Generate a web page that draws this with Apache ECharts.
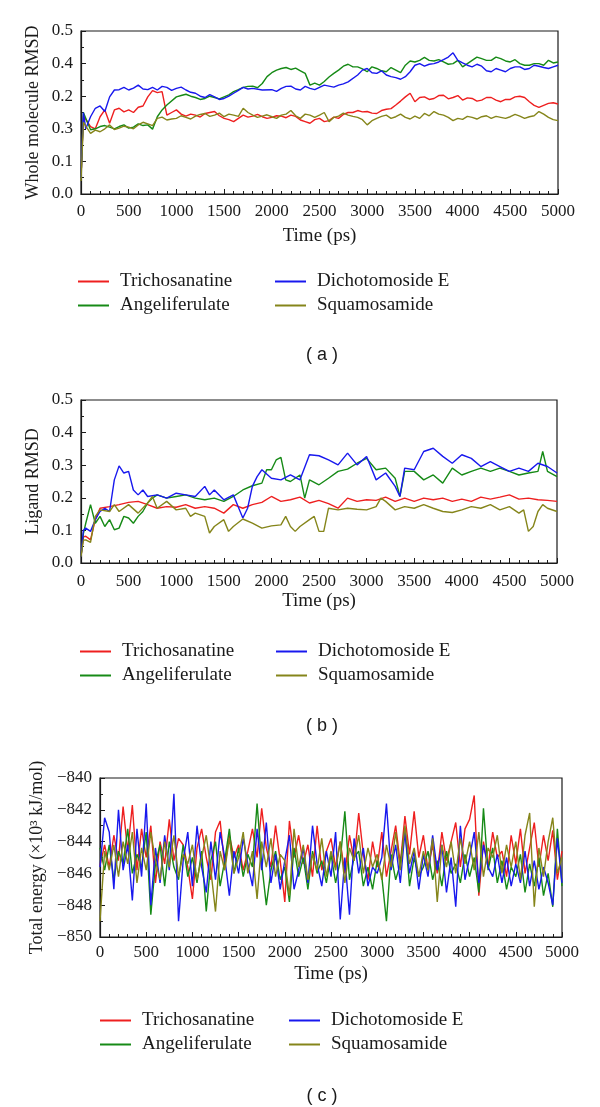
<!DOCTYPE html>
<html><head><meta charset="utf-8">
<script src="https://cdn.jsdelivr.net/npm/echarts@6/dist/echarts.min.js"></script>
<style>html,body{margin:0;padding:0;background:#fff}#c{width:600px;height:1107px}</style>
</head><body><div id="c"></div>
<script>
// ---------- DATA ----------
const seriesNames = ['Trichosanatine', 'Angeliferulate', 'Dichotomoside E', 'Squamosamide'];
const xTickLabels = ['0','500','1000','1500','2000','2500','3000','3500','4000','4500','5000'];
const yTickLabelsA = ['0.0','0.1','0.3','0.2','0.4','0.5'];
const yTickLabelsB = ['0.0','0.1','0.2','0.3','0.4','0.5'];
const yTickLabelsC = ['\u2212850','\u2212848','\u2212846','\u2212844','\u2212842','\u2212840'];

// Panel (a) whole molecule RMSD  [time ps, value]
const aRed = [[0,0.05],[25,0.24],[100,0.207],[150,0.2],[200,0.237],[250,0.258],[300,0.217],[350,0.258],[400,0.263],[450,0.252],[500,0.258],[550,0.25],[600,0.266],[650,0.27],[700,0.298],[750,0.317],[800,0.311],[850,0.314],[900,0.242],[950,0.25],[1000,0.258],[1050,0.245],[1100,0.239],[1150,0.245],[1200,0.242],[1250,0.236],[1300,0.247],[1350,0.25],[1400,0.253],[1450,0.24],[1500,0.232],[1550,0.228],[1600,0.222],[1650,0.232],[1700,0.242],[1750,0.236],[1800,0.239],[1850,0.244],[1900,0.237],[1950,0.232],[2000,0.235],[2050,0.24],[2100,0.239],[2150,0.234],[2200,0.242],[2250,0.238],[2300,0.227],[2350,0.222],[2400,0.217],[2450,0.228],[2500,0.232],[2550,0.222],[2600,0.225],[2650,0.236],[2700,0.232],[2750,0.244],[2800,0.25],[2850,0.25],[2900,0.256],[2950,0.252],[3000,0.253],[3050,0.248],[3100,0.247],[3150,0.256],[3200,0.26],[3250,0.262],[3300,0.273],[3350,0.285],[3400,0.298],[3450,0.309],[3500,0.283],[3550,0.296],[3600,0.298],[3650,0.29],[3700,0.293],[3750,0.302],[3800,0.303],[3850,0.292],[3900,0.296],[3950,0.302],[4000,0.288],[4050,0.295],[4100,0.293],[4150,0.285],[4200,0.288],[4250,0.296],[4300,0.296],[4350,0.288],[4400,0.283],[4450,0.29],[4500,0.29],[4550,0.298],[4600,0.3],[4650,0.296],[4700,0.283],[4750,0.272],[4800,0.266],[4850,0.272],[4900,0.278],[4950,0.28],[5000,0.276]];
const aGreen = [[0,0.05],[25,0.25],[100,0.197],[150,0.2],[200,0.207],[250,0.21],[300,0.205],[350,0.2],[400,0.207],[450,0.212],[500,0.202],[550,0.205],[600,0.215],[650,0.21],[700,0.212],[750,0.199],[800,0.237],[850,0.258],[900,0.273],[1000,0.298],[1050,0.302],[1100,0.306],[1150,0.3],[1200,0.296],[1250,0.29],[1300,0.293],[1350,0.3],[1400,0.296],[1450,0.292],[1500,0.298],[1550,0.304],[1600,0.314],[1650,0.32],[1700,0.327],[1750,0.33],[1800,0.331],[1850,0.326],[1900,0.339],[1950,0.36],[2000,0.372],[2050,0.38],[2100,0.385],[2150,0.388],[2200,0.382],[2250,0.386],[2300,0.378],[2350,0.37],[2400,0.334],[2450,0.34],[2500,0.334],[2550,0.345],[2600,0.359],[2650,0.37],[2700,0.38],[2750,0.392],[2800,0.398],[2850,0.39],[2900,0.39],[2950,0.384],[3000,0.375],[3050,0.39],[3100,0.385],[3150,0.378],[3200,0.375],[3250,0.388],[3300,0.38],[3350,0.372],[3400,0.395],[3450,0.408],[3500,0.405],[3550,0.41],[3600,0.419],[3650,0.41],[3700,0.408],[3750,0.412],[3800,0.405],[3850,0.398],[3900,0.4],[3950,0.41],[4000,0.39],[4050,0.4],[4100,0.41],[4150,0.42],[4200,0.415],[4250,0.41],[4300,0.41],[4350,0.42],[4400,0.415],[4450,0.408],[4500,0.405],[4550,0.412],[4600,0.4],[4650,0.395],[4700,0.395],[4750,0.4],[4800,0.4],[4850,0.395],[4900,0.41],[4950,0.402],[5000,0.405]];
const aBlue = [[0,0.05],[25,0.25],[50,0.2],[100,0.237],[150,0.263],[200,0.27],[250,0.253],[300,0.298],[350,0.319],[400,0.32],[450,0.327],[500,0.319],[550,0.325],[600,0.334],[650,0.322],[700,0.32],[750,0.327],[800,0.319],[850,0.33],[900,0.327],[950,0.318],[1000,0.324],[1050,0.328],[1100,0.319],[1150,0.312],[1200,0.309],[1250,0.3],[1300,0.296],[1350,0.305],[1400,0.298],[1450,0.29],[1500,0.293],[1550,0.3],[1600,0.309],[1650,0.318],[1700,0.327],[1750,0.322],[1800,0.324],[1900,0.319],[2000,0.32],[2050,0.315],[2100,0.324],[2150,0.33],[2200,0.331],[2250,0.322],[2300,0.319],[2350,0.33],[2400,0.324],[2450,0.32],[2500,0.327],[2550,0.334],[2600,0.331],[2650,0.328],[2700,0.334],[2750,0.338],[2800,0.344],[2900,0.365],[2950,0.38],[3000,0.385],[3050,0.372],[3100,0.37],[3150,0.378],[3200,0.365],[3250,0.36],[3300,0.357],[3350,0.352],[3400,0.36],[3450,0.375],[3500,0.395],[3550,0.4],[3600,0.392],[3650,0.398],[3700,0.4],[3750,0.405],[3800,0.412],[3850,0.42],[3900,0.433],[3950,0.41],[4000,0.402],[4050,0.395],[4100,0.39],[4150,0.398],[4200,0.392],[4250,0.378],[4300,0.375],[4350,0.385],[4400,0.38],[4450,0.375],[4500,0.385],[4550,0.39],[4600,0.39],[4650,0.382],[4700,0.385],[4750,0.395],[4800,0.392],[4850,0.388],[4900,0.385],[4950,0.39],[5000,0.395]];
const aOlive = [[0,0.04],[25,0.22],[100,0.186],[150,0.196],[200,0.191],[250,0.2],[300,0.212],[350,0.198],[400,0.202],[450,0.208],[500,0.205],[550,0.2],[600,0.212],[650,0.22],[700,0.215],[750,0.21],[800,0.232],[850,0.236],[900,0.227],[950,0.23],[1000,0.232],[1050,0.24],[1100,0.235],[1150,0.23],[1200,0.239],[1250,0.244],[1300,0.247],[1350,0.238],[1400,0.242],[1450,0.248],[1500,0.237],[1550,0.245],[1600,0.242],[1650,0.238],[1700,0.263],[1750,0.25],[1800,0.242],[1850,0.235],[1900,0.239],[1950,0.243],[2000,0.237],[2050,0.232],[2100,0.242],[2150,0.245],[2200,0.256],[2250,0.24],[2300,0.232],[2350,0.245],[2400,0.242],[2450,0.235],[2500,0.242],[2550,0.25],[2600,0.222],[2650,0.235],[2700,0.239],[2750,0.248],[2800,0.242],[2850,0.238],[2900,0.235],[2950,0.228],[3000,0.212],[3050,0.225],[3100,0.232],[3150,0.238],[3200,0.242],[3250,0.232],[3300,0.237],[3350,0.245],[3400,0.235],[3450,0.23],[3500,0.239],[3550,0.232],[3600,0.247],[3650,0.24],[3700,0.253],[3750,0.245],[3800,0.242],[3850,0.235],[3900,0.225],[3950,0.232],[4000,0.229],[4050,0.238],[4100,0.235],[4150,0.23],[4200,0.237],[4250,0.24],[4300,0.232],[4350,0.238],[4400,0.235],[4450,0.232],[4500,0.237],[4550,0.244],[4600,0.239],[4650,0.232],[4700,0.237],[4750,0.24],[4800,0.253],[4850,0.245],[4900,0.235],[4950,0.228],[5000,0.225]];

// Panel (b) ligand RMSD  [time ps, value]
const bRed = [[0,0.02],[25,0.08],[50,0.082],[100,0.071],[150,0.133],[200,0.168],[300,0.173],[400,0.179],[500,0.186],[600,0.189],[700,0.179],[800,0.168],[900,0.173],[1000,0.171],[1100,0.179],[1200,0.168],[1300,0.173],[1400,0.168],[1500,0.153],[1600,0.179],[1700,0.168],[1800,0.179],[1900,0.186],[2000,0.204],[2100,0.189],[2200,0.194],[2300,0.202],[2400,0.184],[2500,0.192],[2600,0.182],[2700,0.168],[2800,0.199],[2900,0.189],[3000,0.194],[3100,0.192],[3200,0.202],[3300,0.189],[3400,0.199],[3500,0.189],[3600,0.199],[3700,0.194],[3800,0.199],[3900,0.189],[4000,0.196],[4100,0.189],[4200,0.202],[4300,0.196],[4400,0.202],[4500,0.209],[4600,0.196],[4700,0.199],[4800,0.194],[4900,0.192],[5000,0.189]];
const bGreen = [[0,0.02],[25,0.09],[50,0.122],[100,0.179],[150,0.122],[200,0.143],[250,0.112],[300,0.133],[350,0.102],[400,0.107],[450,0.143],[500,0.138],[550,0.122],[600,0.143],[650,0.158],[700,0.184],[750,0.199],[800,0.209],[900,0.199],[1000,0.204],[1100,0.209],[1200,0.199],[1300,0.194],[1400,0.199],[1500,0.189],[1600,0.204],[1700,0.224],[1800,0.237],[1900,0.245],[1950,0.286],[2000,0.286],[2050,0.316],[2100,0.324],[2150,0.255],[2200,0.25],[2300,0.27],[2350,0.199],[2400,0.255],[2500,0.24],[2600,0.26],[2700,0.281],[2800,0.288],[2900,0.306],[3000,0.321],[3100,0.286],[3200,0.291],[3300,0.26],[3350,0.204],[3400,0.281],[3500,0.281],[3600,0.255],[3700,0.27],[3800,0.245],[3900,0.291],[4000,0.27],[4100,0.281],[4200,0.291],[4300,0.281],[4400,0.291],[4500,0.281],[4600,0.27],[4700,0.276],[4800,0.281],[4850,0.342],[4900,0.281],[5000,0.265]];
const bBlue = [[0,0.02],[25,0.1],[50,0.107],[100,0.097],[150,0.133],[200,0.158],[250,0.168],[300,0.158],[350,0.255],[400,0.298],[450,0.276],[500,0.281],[550,0.224],[600,0.209],[650,0.224],[700,0.204],[800,0.209],[900,0.199],[1000,0.214],[1100,0.209],[1200,0.204],[1300,0.235],[1350,0.209],[1400,0.224],[1500,0.194],[1600,0.209],[1650,0.173],[1700,0.138],[1750,0.168],[1800,0.235],[1850,0.265],[1900,0.286],[2000,0.26],[2100,0.255],[2200,0.27],[2300,0.255],[2400,0.332],[2500,0.329],[2600,0.316],[2700,0.301],[2800,0.337],[2900,0.301],[3000,0.327],[3100,0.255],[3200,0.276],[3300,0.235],[3350,0.204],[3400,0.291],[3500,0.286],[3600,0.342],[3700,0.352],[3800,0.327],[3900,0.306],[4000,0.332],[4100,0.321],[4200,0.296],[4300,0.311],[4400,0.296],[4500,0.281],[4600,0.291],[4700,0.281],[4800,0.306],[4900,0.296],[5000,0.276]];
const bOlive = [[0,0.02],[25,0.07],[50,0.071],[100,0.063],[150,0.143],[200,0.163],[300,0.158],[350,0.179],[400,0.158],[500,0.179],[600,0.153],[700,0.184],[750,0.204],[800,0.168],[900,0.189],[1000,0.163],[1100,0.168],[1150,0.143],[1200,0.153],[1300,0.143],[1350,0.092],[1400,0.112],[1500,0.133],[1550,0.097],[1600,0.112],[1700,0.135],[1800,0.122],[1900,0.107],[2000,0.114],[2100,0.117],[2150,0.143],[2200,0.112],[2250,0.097],[2300,0.112],[2400,0.133],[2450,0.143],[2500,0.097],[2550,0.097],[2600,0.168],[2700,0.163],[2800,0.168],[2900,0.165],[3000,0.163],[3100,0.173],[3150,0.199],[3200,0.189],[3300,0.163],[3400,0.173],[3500,0.168],[3600,0.179],[3700,0.168],[3800,0.158],[3900,0.155],[4000,0.163],[4100,0.173],[4200,0.168],[4300,0.179],[4400,0.163],[4500,0.173],[4600,0.153],[4650,0.163],[4700,0.097],[4750,0.112],[4800,0.158],[4850,0.179],[4900,0.168],[5000,0.158]];

// Panel (c) total energy (x10^3 kJ/mol)
const timesC = [0,50,100,150,200,250,300,350,400,450,500,550,600,650,700,750,800,850,900,950,1000,1050,1100,1150,1200,1250,1300,1350,1400,1450,1500,1550,1600,1650,1700,1750,1800,1850,1900,1950,2000,2050,2100,2150,2200,2250,2300,2350,2400,2450,2500,2550,2600,2650,2700,2750,2800,2850,2900,2950,3000,3050,3100,3150,3200,3250,3300,3350,3400,3450,3500,3550,3600,3650,3700,3750,3800,3850,3900,3950,4000,4050,4100,4150,4200,4250,4300,4350,4400,4450,4500,4550,4600,4650,4700,4750,4800,4850,4900,4950,5000];
const cRed = [-845.5,-844.2,-845.6,-843.6,-845.2,-841.8,-844.6,-841.7,-845.8,-843.2,
-845.0,-843.0,-846.6,-844.0,-845.4,-842.6,-845.2,-843.8,-844.2,-845.6,
-847.6,-844.4,-843.2,-845.0,-846.4,-843.4,-842.7,-845.6,-843.6,-845.0,
-844.2,-845.8,-844.6,-843.2,-845.0,-841.9,-844.4,-845.6,-843.0,-845.2,
-847.8,-842.7,-845.0,-843.6,-845.4,-844.2,-846.2,-843.0,-845.8,-844.6,
-843.8,-845.6,-844.0,-846.0,-843.6,-845.2,-842.2,-844.8,-846.4,-844.0,
-845.6,-843.4,-846.2,-844.6,-843.0,-845.4,-842.4,-844.8,-842.1,-845.0,
-843.6,-845.8,-844.2,-846.0,-843.4,-845.2,-844.0,-842.8,-845.6,-843.2,
-842.6,-841.1,-847.4,-844.0,-845.6,-843.4,-845.0,-844.6,-846.2,-843.6,
-845.4,-843.2,-846.0,-844.4,-842.8,-845.6,-843.6,-845.2,-843.3,-846.4,-844.6];
const cGreen = [-844.4,-845.8,-844.2,-846.4,-844.6,-845.4,-843.2,-846.0,-844.8,-845.6,
-843.4,-848.6,-845.4,-844.2,-846.8,-844.0,-845.6,-846.4,-844.2,-846.2,
-845.0,-846.6,-844.6,-848.4,-845.2,-844.0,-846.8,-845.2,-843.2,-846.0,
-844.4,-846.2,-844.8,-845.6,-841.6,-845.4,-848.0,-845.8,-844.6,-846.4,
-845.6,-847.8,-844.4,-846.2,-845.0,-847.0,-844.6,-846.0,-845.2,-846.6,
-844.8,-846.6,-845.2,-842.1,-846.4,-845.0,-844.6,-846.8,-845.6,-847.0,
-845.2,-846.2,-849.0,-844.8,-846.4,-845.4,-843.2,-846.8,-845.0,-846.2,
-845.6,-844.6,-846.4,-845.2,-846.8,-844.6,-846.0,-845.4,-846.6,-844.8,
-846.2,-845.0,-847.2,-841.9,-845.8,-844.4,-846.6,-845.2,-847.0,-845.6,
-846.2,-844.8,-847.2,-845.4,-846.8,-845.0,-847.4,-846.0,-848.1,-843.2,-846.8];
const cBlue = [-845.6,-842.5,-843.4,-847.0,-842.0,-845.8,-844.2,-847.7,-843.2,-846.2,
-841.6,-848.0,-844.4,-846.6,-843.6,-845.8,-841.0,-849.0,-845.2,-843.4,
-846.8,-843.0,-845.6,-847.2,-844.0,-846.4,-843.4,-845.0,-847.4,-844.6,
-846.0,-843.8,-845.4,-846.8,-843.2,-845.8,-842.8,-846.6,-844.8,-847.0,
-845.2,-843.6,-847.0,-845.8,-844.4,-846.6,-843.0,-845.4,-846.8,-844.6,
-846.2,-843.4,-848.9,-845.0,-848.6,-843.8,-846.0,-844.4,-846.8,-845.6,
-846.0,-845.0,-841.6,-845.8,-844.2,-846.6,-843.4,-846.0,-844.6,-847.0,
-844.8,-846.2,-843.6,-845.8,-844.2,-847.2,-845.0,-848.1,-843.0,-846.4,
-845.0,-843.4,-846.6,-844.2,-845.6,-846.2,-844.8,-846.6,-845.0,-846.8,
-845.4,-846.6,-844.6,-846.8,-845.2,-847.0,-845.6,-846.6,-848.0,-843.8,-846.6];
const cOlive = [-849.0,-844.6,-845.8,-844.2,-846.2,-844.0,-845.4,-843.4,-846.6,-844.4,
-845.8,-843.4,-845.2,-846.4,-844.0,-845.6,-843.6,-846.2,-844.8,-845.4,
-844.2,-846.4,-845.0,-843.6,-845.8,-848.4,-844.6,-845.8,-843.8,-846.0,
-845.0,-843.4,-846.0,-844.6,-847.6,-844.0,-845.6,-843.8,-846.2,-844.8,
-845.2,-847.4,-843.2,-845.6,-844.2,-846.4,-844.8,-845.8,-843.8,-846.2,
-844.6,-845.8,-844.0,-846.6,-844.4,-845.2,-843.6,-846.0,-844.4,-845.6,
-844.8,-846.4,-844.2,-845.6,-843.4,-845.8,-843.0,-845.4,-844.4,-846.2,
-844.6,-845.8,-843.8,-847.8,-844.2,-845.6,-844.0,-846.0,-843.8,-845.4,
-844.0,-845.8,-843.4,-846.2,-844.4,-845.0,-843.6,-846.0,-844.2,-845.6,
-844.0,-846.4,-843.6,-842.2,-848.1,-844.4,-846.2,-844.0,-842.5,-846.0,-845.0];

// ---------- STYLE ----------
const colors = {'Trichosanatine':'#ee1f1f','Angeliferulate':'#168a16','Dichotomoside E':'#1818ee','Squamosamide':'#85851a'};
const SERIF = '"Liberation Serif","Times New Roman",serif';
const INK = '#1a1a1a';

const chart = echarts.init(document.getElementById('c'), null, {renderer:'canvas'});

const grids = [
  {left:81, top:31, width:477, height:163},
  {left:81, top:400, width:476, height:163},
  {left:100, top:778, width:462, height:159}
];

function xAxis(i, margin, nameGap){
  return {
    gridIndex:i, type:'value', min:0, max:5000, interval:500,
    axisLine:{show:true, onZero:false, lineStyle:{color:INK, width:1.2}},
    axisTick:{show:true, inside:true, length:5, lineStyle:{color:INK}},
    minorTick:{show:true, splitNumber:5, length:3, lineStyle:{color:INK}},
    splitLine:{show:false}, minorSplitLine:{show:false},
    axisLabel:{fontFamily:SERIF, fontSize:17, color:INK, margin:margin,
      formatter:(v)=>xTickLabels[Math.round(v/500)]},
    name:'Time (ps)', nameLocation:'middle', nameGap:nameGap, nameMoveOverlap:false,
    nameTextStyle:{fontFamily:SERIF, fontSize:19, color:INK}
  };
}
function yAxis(i, min, max, interval, labels, name, nameGap){
  return {
    gridIndex:i, type:'value', min:min, max:max, interval:interval,
    axisLine:{show:true, onZero:false, lineStyle:{color:INK, width:1.2}},
    axisTick:{show:true, inside:true, length:5, lineStyle:{color:INK}},
    minorTick:{show:true, splitNumber:2, length:3, lineStyle:{color:INK}},
    splitLine:{show:false}, minorSplitLine:{show:false},
    axisLabel:{fontFamily:SERIF, fontSize:17, color:INK, margin:8,
      formatter:(v)=>labels[Math.round((v-min)/interval)]},
    name:name, nameLocation:'middle', nameRotate:90, nameGap:nameGap, nameMoveOverlap:false,
    nameTextStyle:{fontFamily:SERIF, fontSize:18, color:INK}
  };
}

function lineSeries(name, gi, data){
  return {
    type:'line', name:name, xAxisIndex:gi, yAxisIndex:gi, data:data,
    showSymbol:false, symbol:'none', smooth:false,
    lineStyle:{color:colors[name], width:1.4}, itemStyle:{color:colors[name]},
    emphasis:{disabled:true}, animation:false
  };
}
const pair = (arr)=>timesC.map((t,k)=>[t, arr[k]]);

const series = [
  lineSeries('Trichosanatine',0,aRed), lineSeries('Angeliferulate',0,aGreen),
  lineSeries('Dichotomoside E',0,aBlue), lineSeries('Squamosamide',0,aOlive),
  lineSeries('Trichosanatine',1,bRed), lineSeries('Angeliferulate',1,bGreen),
  lineSeries('Dichotomoside E',1,bBlue), lineSeries('Squamosamide',1,bOlive),
  lineSeries('Trichosanatine',2,pair(cRed)), lineSeries('Angeliferulate',2,pair(cGreen)),
  lineSeries('Dichotomoside E',2,pair(cBlue)), lineSeries('Squamosamide',2,pair(cOlive))
];

function legend(left, top, names){
  return {
    orient:'vertical', left:left, top:top, padding:0, itemGap:5,
    itemWidth:31, itemHeight:2, icon:'rect', selectedMode:false,
    data:names.map(n=>({name:n, itemStyle:{color:colors[n]}})),
    textStyle:{fontFamily:SERIF, fontSize:19, color:INK, lineHeight:19, padding:[0,0,0,6]}
  };
}

const legends = [
  legend(78, 272, [seriesNames[0], seriesNames[1]]), legend(275, 272, [seriesNames[2], seriesNames[3]]),
  legend(80, 642, [seriesNames[0], seriesNames[1]]), legend(276, 642, [seriesNames[2], seriesNames[3]]),
  legend(100, 1011, [seriesNames[0], seriesNames[1]]), legend(289, 1011, [seriesNames[2], seriesNames[3]])
];

const captions = [['( a )',355],['( b )',726],['( c )',1096]].map(([t,y])=>({
  type:'text', x:322, y:y,
  style:{text:t, textAlign:'center', textVerticalAlign:'middle', font:'18px "Liberation Sans", Arial, sans-serif', fill:INK}
}));

chart.setOption({
  animation:false,
  backgroundColor:'#fff',
  grid:grids.map(g=>Object.assign({show:true, borderColor:INK, borderWidth:1.2, backgroundColor:'transparent', containLabel:false}, g)),
  xAxis:[xAxis(0,9,33), xAxis(1,10,29), xAxis(2,7,28)],
  yAxis:[
    yAxis(0,0,0.5,0.1,yTickLabelsA,'Whole molecule RMSD',39),
    yAxis(1,0,0.5,0.1,yTickLabelsB,'Ligand RMSD',39),
    yAxis(2,-850,-840,2,yTickLabelsC,'Total energy (\u00d710\u00b3 kJ/mol)',54)
  ],
  legend:legends,
  series:series,
  graphic:captions
});
</script>
</body></html>
